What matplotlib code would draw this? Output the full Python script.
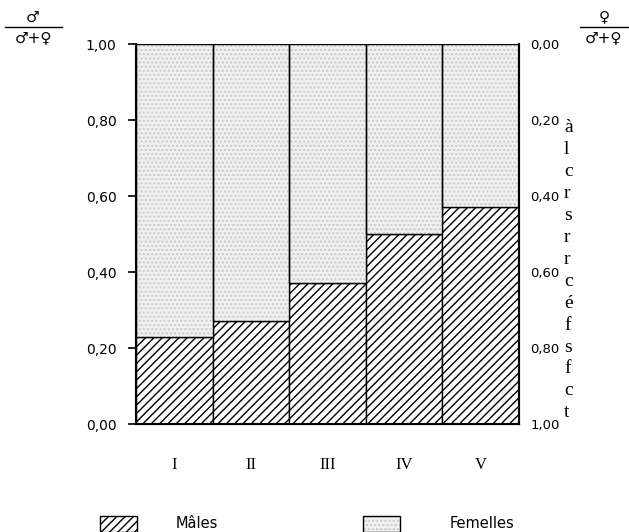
import numpy as np
import matplotlib.pyplot as plt
from matplotlib.patches import Rectangle
from matplotlib.lines import Line2D

# Proportion de mâles par classe
classes = ['I', 'II', 'III', 'IV', 'V']
males = [0.23, 0.27, 0.37, 0.50, 0.57]
femelles = [1 - m for m in males]

# Colonne de texte coupée à droite de la page
texte_page = ['à', 'l', 'c', 'r', 's', 'r', 'r', 'c', 'é', 'f', 's', 'f', 'c', 't']

plt.rcParams['hatch.linewidth'] = 1.0
plt.rcParams['font.family'] = ['DejaVu Sans']

fig = plt.figure(figsize=(6.29, 5.32), dpi=100)
W, H = 629, 532
ax = fig.add_axes([136 / W, 1 - 424 / H, 383 / W, 380 / H])

x = np.arange(len(classes))

# Mâles : hachures obliques
ax.bar(x, males, width=1.0, facecolor='white', edgecolor='black',
       hatch='////', linewidth=1.0, zorder=2)
# Femelles : pointillé gris clair
ax.bar(x, femelles, bottom=males, width=1.0, facecolor='#f0f0f0',
       edgecolor='#c8c8c8', hatch='....', linewidth=0, zorder=2)
ax.bar(x, femelles, bottom=males, width=1.0, fill=False,
       edgecolor='black', linewidth=1.0, zorder=3)

ax.set_xlim(-0.5, 4.5)
ax.set_ylim(0, 1)
ax.set_xticks(x)
ax.set_xticklabels(classes, family='Liberation Serif', fontsize=12)
ax.tick_params(axis='x', length=0, pad=24)

yt = [0, 0.2, 0.4, 0.6, 0.8, 1.0]
ax.set_yticks(yt)
ax.set_yticklabels([f'{v:.2f}'.replace('.', ',') for v in yt], fontsize=10)
ax.tick_params(axis='y', direction='out', length=6, width=1.2, pad=8)

ax.spines['top'].set_visible(False)
for s in ['left', 'bottom', 'right']:
    ax.spines[s].set_linewidth(1.5)

# Axe de droite : proportion de femelles (inversé)
ax2 = ax.twinx()
ax2.set_ylim(1, 0)
ax2.set_yticks(yt)
ax2.set_yticklabels([f'{v:.2f}'.replace('.', ',') for v in yt], fontsize=9.5)
ax2.tick_params(axis='y', direction='out', length=0, pad=8)
ax2.spines['top'].set_visible(False)
ax2.spines['right'].set_linewidth(1.5)

# Fractions ♂/(♂+♀) et ♀/(♂+♀)
def fraction(xc, x0, x1, num):
    fig.text(xc / W, 1 - 17 / H, num, ha='center', va='center', fontsize=11)
    fig.add_artist(Line2D([x0 / W, x1 / W], [1 - 27 / H, 1 - 27 / H],
                          color='black', linewidth=1.0))
    fig.text(xc / W, 1 - 38 / H, '♂+♀', ha='center', va='center', fontsize=11)

fraction(33, 5, 62, '♂')
fraction(604, 580, 629, '♀')

# Légende en bas
fig.add_artist(Rectangle((100 / W, 0), 37 / W, 16 / H, transform=fig.transFigure,
                         facecolor='white', edgecolor='black', hatch='////',
                         linewidth=1.0))
fig.text(176 / W, 1 - 523 / H, 'Mâles', fontsize=10.5, va='center')
fig.add_artist(Rectangle((363 / W, 0), 37 / W, 16 / H, transform=fig.transFigure,
                         facecolor='#f0f0f0', edgecolor='#c8c8c8', hatch='....',
                         linewidth=0))
fig.add_artist(Rectangle((363 / W, 0), 37 / W, 16 / H, transform=fig.transFigure,
                         fill=False, edgecolor='black', linewidth=1.0))
fig.text(450 / W, 1 - 523 / H, 'Femelles', fontsize=10.5, va='center')

for i, c in enumerate(texte_page):
    fig.text(564 / W, 1 - (128 + 21.9 * i) / H, c, family='Liberation Serif',
             fontsize=14, va='center')

fig.savefig('out.png', dpi=100)
